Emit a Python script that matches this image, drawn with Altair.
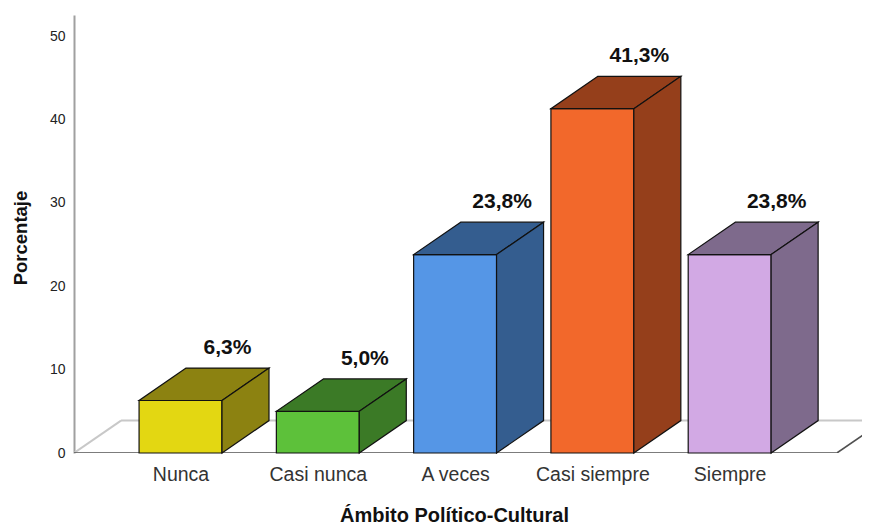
import json
import altair as alt
import pandas as pd

# ---- data ----
categories = ["Nunca", "Casi nunca", "A veces", "Casi siempre", "Siempre"]
values = [6.3, 5.0, 23.8, 41.3, 23.8]
front_colors = ["#E3D712", "#5DC13A", "#5596E6", "#F2682B", "#D2A9E4"]
side_colors = ["#8C8211", "#3B7A26", "#345D8F", "#953F1B", "#7E6A8C"]
y_ticks = [0, 10, 20, 30, 40, 50]
x_title = "Ámbito Político-Cultural"
y_title = "Porcentaje"

# ---- geometry / style (3D look) ----
HALF = 0.302      # half bar width in category units
DX = 0.3424       # depth offset (x, category units)
DY = 3.887        # depth offset (y, percent units)
X_DOMAIN = [-0.776, 4.964]
Y_DOMAIN = [0, 52.54]
FLOOR_L, FLOOR_R = -0.776, 4.781
FONT = "Liberation Sans"

idx = list(range(len(categories)))

front = pd.DataFrame({"i": idx, "cat": categories, "v": values, "fill": front_colors})
front["x0"] = front["i"] - HALF
front["x1"] = front["i"] + HALF
front["y0"] = 0.0

top_rows, side_rows = [], []
for i, c, v, col in zip(idx, categories, values, side_colors):
    top_rows.append({"cat": c, "fill": col, "y": v, "xa": i - HALF, "xb": i + HALF})
    top_rows.append({"cat": c, "fill": col, "y": v + DY, "xa": i - HALF + DX, "xb": i + HALF + DX})
    side_rows.append({"cat": c, "fill": col, "x": i + HALF, "ya": 0.0, "yb": v})
    side_rows.append({"cat": c, "fill": col, "x": i + HALF + DX, "ya": DY, "yb": v + DY})
top = pd.DataFrame(top_rows)
side = pd.DataFrame(side_rows)

labels = pd.DataFrame({
    "x": [i + DX for i in idx],
    "y": [v + DY for v in values],
    "t": [f"{v:.1f}".replace(".", ",") + "%" for v in values],
})

floor_dark = pd.DataFrame({
    "x": [FLOOR_L, FLOOR_R], "y": [0.0, 0.0],
    "x2": [FLOOR_R, FLOOR_R + DX], "y2": [0.0, DY],
})
floor_light = pd.DataFrame({
    "x": [FLOOR_L + DX, FLOOR_L], "y": [DY, 0.0],
    "x2": [FLOOR_R + DX * 2, FLOOR_L + DX], "y2": [DY, DY],
})

xscale = alt.Scale(domain=X_DOMAIN, nice=False, zero=False)
yscale = alt.Scale(domain=Y_DOMAIN, nice=False, zero=False)

xaxis = alt.Axis(
    values=idx,
    labelExpr=f"{json.dumps(categories)}[datum.value]",
    domain=False, ticks=False, tickSize=0, grid=False,
    labelFont=FONT, labelFontSize=19.5, labelColor="#333333",
    labelBaseline="alphabetic", labelPadding=27, labelOverlap=False, labelFlush=False,
    title=x_title, titleFont=FONT, titleFontSize=20, titleFontWeight="bold",
    titleColor="#111111", titleX=380, titleY=68, titleBaseline="alphabetic",
    titleAlign="center", titleAnchor="middle",
)
yaxis = alt.Axis(
    values=y_ticks, grid=False,
    domainColor="#a0a0a0", domainWidth=2, ticks=False, tickSize=0,
    labelFont=FONT, labelFontSize=14, labelColor="#222222", labelPadding=9,
    title=y_title, titleFont=FONT, titleFontSize=18.5, titleFontWeight="bold",
    titleColor="#111111", titleX=-48, titleY=222.5, titleAngle=270,
    titleBaseline="alphabetic", titleAlign="center",
)


def X(field, **kw):
    return alt.X(f"{field}:Q", scale=xscale, axis=xaxis, **kw)


def Y(field, **kw):
    return alt.Y(f"{field}:Q", scale=yscale, axis=yaxis, **kw)


fl_light = alt.Chart(floor_light).mark_rule(color="#c8c8c8", strokeWidth=2, clip=True).encode(
    x=X("x"), y=Y("y"), x2="x2", y2="y2")
fl_dark = alt.Chart(floor_dark).mark_rule(color="#505050", strokeWidth=1.6, clip=True).encode(
    x=X("x"), y=Y("y"), x2="x2", y2="y2")

front_layer = alt.Chart(front).mark_rect(stroke="#111111", strokeWidth=1.2).encode(
    x=X("x0"), x2="x1", y=Y("y0"), y2="v",
    fill=alt.Fill("fill:N", scale=None))

top_layer = alt.Chart(top).mark_area(orient="horizontal", stroke="#111111", strokeWidth=1.2).encode(
    y=Y("y"), x=X("xa", stack=None), x2="xb", detail="cat:N",
    fill=alt.Fill("fill:N", scale=None))

side_layer = alt.Chart(side).mark_area(orient="vertical", stroke="#111111", strokeWidth=1.2).encode(
    x=X("x"), y=Y("ya", stack=None), y2="yb", detail="cat:N",
    fill=alt.Fill("fill:N", scale=None))

text_layer = alt.Chart(labels).mark_text(
    font=FONT, fontSize=21, fontWeight="bold", baseline="alphabetic", align="center",
    dy=-14, color="#111111").encode(x=X("x"), y=Y("y"), text="t:N")

chart = alt.layer(fl_light, fl_dark, front_layer, top_layer, side_layer, text_layer).properties(
    width=788, height=438,
    autosize=alt.AutoSizeParams(type="none"),
    padding={"left": 66, "top": 7, "right": 0, "bottom": 72},
    background="white",
).configure_view(stroke=None)

chart.save("out.html", embed_options={"renderer": "svg", "actions": False})
